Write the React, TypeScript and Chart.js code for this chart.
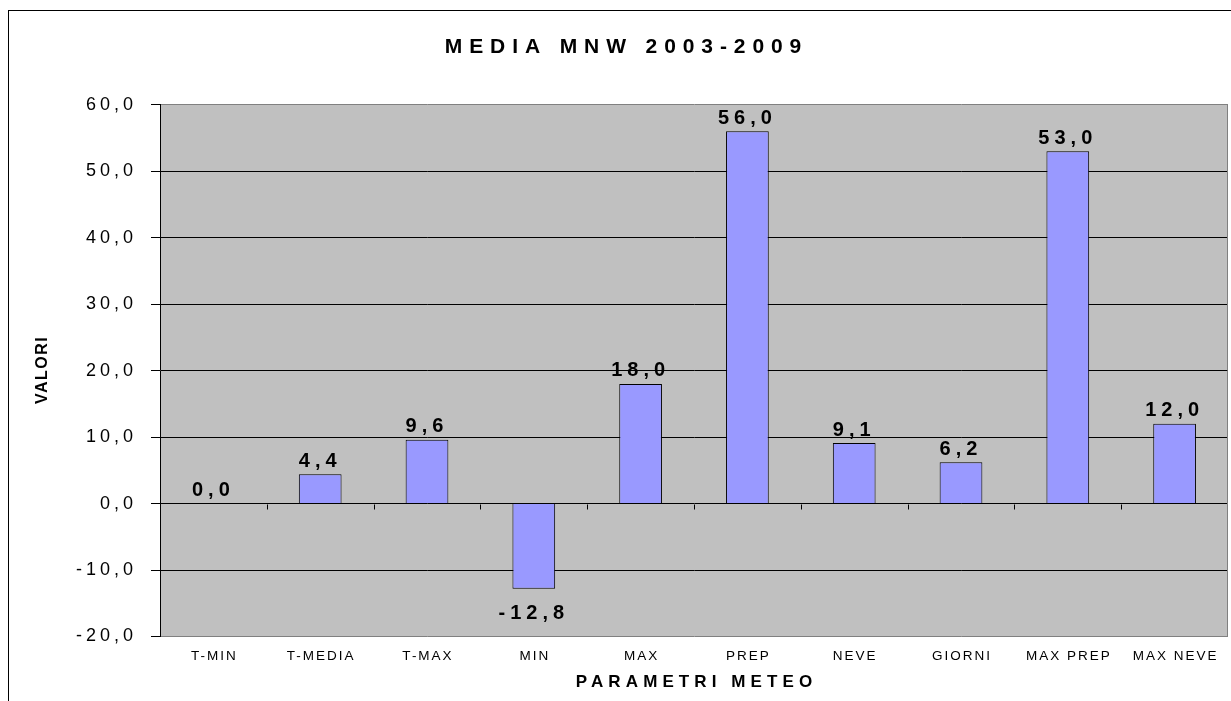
import React, { useEffect, useRef } from "react";
import { Chart, registerables } from "chart.js";

Chart.register(...registerables);

const TITLE = "MEDIA MNW 2003-2009";
const X_TITLE = "PARAMETRI METEO";
const Y_TITLE = "VALORI";
const categories = ["T-MIN", "T-MEDIA", "T-MAX", "MIN", "MAX", "PREP", "NEVE", "GIORNI", "MAX PREP", "MAX NEVE"];
const values = [0.0, 4.4, 9.6, -12.8, 18.0, 56.0, 9.1, 6.2, 53.0, 12.0];
const Y_MIN = -20;
const Y_MAX = 60;
const Y_STEP = 10;

const FONT = '"Liberation Sans", Arial, sans-serif';
const fmt = (v: number) => v.toFixed(1).replace(".", ",");

const excelPlugin = {
  id: "excelLook",
  beforeDraw(chart: any) {
    const ctx = chart.ctx;
    const { left, top, right, bottom } = chart.chartArea;
    ctx.save();
    ctx.fillStyle = "#ffffff";
    ctx.fillRect(0, 0, chart.width, chart.height);
    ctx.strokeStyle = "#000000";
    ctx.lineWidth = 1;
    ctx.strokeRect(8.5, 10.5, 1400, 900);
    ctx.fillStyle = "#C0C0C0";
    ctx.fillRect(left, top, right - left, bottom - top);
    ctx.restore();
    ctx.letterSpacing = "4px";
  },
  afterDraw(chart: any) {
    const ctx = chart.ctx;
    const { left, top, right, bottom } = chart.chartArea;
    const xs = chart.scales.x;
    const ys = chart.scales.y;
    const y0 = Math.round(ys.getPixelForValue(0)) + 0.5;
    ctx.save();
    ctx.letterSpacing = "0px";
    // right border of plot area
    ctx.strokeStyle = "#808080";
    ctx.lineWidth = 1;
    ctx.beginPath();
    ctx.moveTo(Math.round(right) - 0.5, top);
    ctx.lineTo(Math.round(right) - 0.5, bottom);
    ctx.stroke();
    // tick marks on zero line between categories
    ctx.strokeStyle = "#000000";
    ctx.beginPath();
    for (let i = 1; i < categories.length; i++) {
      const bx = Math.round((xs.getPixelForValue(i - 1) + xs.getPixelForValue(i)) / 2) + 0.5;
      ctx.moveTo(bx, y0);
      ctx.lineTo(bx, y0 + 5);
    }
    ctx.stroke();

    ctx.fillStyle = "#000000";
    // data labels
    const meta = chart.getDatasetMeta(0);
    const dls = 5;
    ctx.font = `bold 20px ${FONT}`;
    ctx.letterSpacing = dls + "px";
    ctx.textAlign = "center";
    ctx.textBaseline = "alphabetic";
    meta.data.forEach((el: any, i: number) => {
      const v = values[i];
      const ty = v >= 0 ? el.y - 7.4 : el.y + 30;
      ctx.fillText(fmt(v), el.x, ty);
    });

    // category labels
    const cls = 2;
    ctx.font = `13.5px ${FONT}`;
    ctx.letterSpacing = cls + "px";
    categories.forEach((c, i) => {
      ctx.fillText(c, xs.getPixelForValue(i) + cls / 2, 660);
    });

    // x title
    const xls = 5.1;
    ctx.font = `bold 17px ${FONT}`;
    ctx.letterSpacing = xls + "px";
    ctx.fillText(X_TITLE, (left + right) / 2 + xls / 2, 687);

    // chart title
    const tls = 6.9;
    ctx.font = `bold 21px ${FONT}`;
    ctx.letterSpacing = tls + "px";
    ctx.fillText(TITLE, 623 + tls / 2, 52.7);

    // y title
    const yls = 1.5;
    ctx.font = `bold 16px ${FONT}`;
    ctx.letterSpacing = yls + "px";
    ctx.translate(47, (top + bottom) / 2);
    ctx.rotate(-Math.PI / 2);
    ctx.fillText(Y_TITLE, yls / 2, 0);
    ctx.restore();
  },
};

export default function App() {
  const ref = useRef<HTMLCanvasElement>(null);
  useEffect(() => {
    if (!ref.current) return;
    const chart = new Chart(ref.current, {
      type: "bar",
      data: {
        labels: categories,
        datasets: [
          {
            data: values,
            backgroundColor: "#9999FF",
            borderColor: "#000000",
            borderWidth: 1,
            barPercentage: 0.4,
            categoryPercentage: 1,
          },
        ],
      },
      options: {
        responsive: false,
        animation: false,
        devicePixelRatio: 1,
        layout: { padding: { left: 0, right: 3, top: 104.7, bottom: 64.5 } },
        plugins: {
          legend: { display: false },
          tooltip: { enabled: false },
          title: { display: false },
        },
        scales: {
          x: {
            display: true,
            grid: { display: false },
            border: { display: false },
            ticks: { display: false },
            afterFit: (s: any) => {
              s.height = 0;
            },
          },
          y: {
            min: Y_MIN,
            max: Y_MAX,
            afterFit: (s: any) => {
              s.width = 160;
            },
            ticks: {
              stepSize: Y_STEP,
              padding: 14,
              color: "#000000",
              font: { family: FONT, size: 18 },
              callback: (v: any) => fmt(Number(v)),
            },
            grid: {
              color: (c: any) =>
                c.tick && (c.tick.value === Y_MAX || c.tick.value === Y_MIN) ? "#808080" : "#000000",
              tickColor: "#000000",
              tickLength: 9,
              lineWidth: 1,
            },
            border: { display: true, color: "#000000", width: 1 },
          },
        },
      },
      plugins: [excelPlugin],
    } as any);
    return () => chart.destroy();
  }, []);
  return (
    <div style={{ position: "fixed", left: 0, top: 0, width: 1231, height: 701, overflow: "hidden", background: "#fff" }}>
      <canvas ref={ref} width={1231} height={701} style={{ display: "block", width: 1231, height: 701 }} />
    </div>
  );
}
